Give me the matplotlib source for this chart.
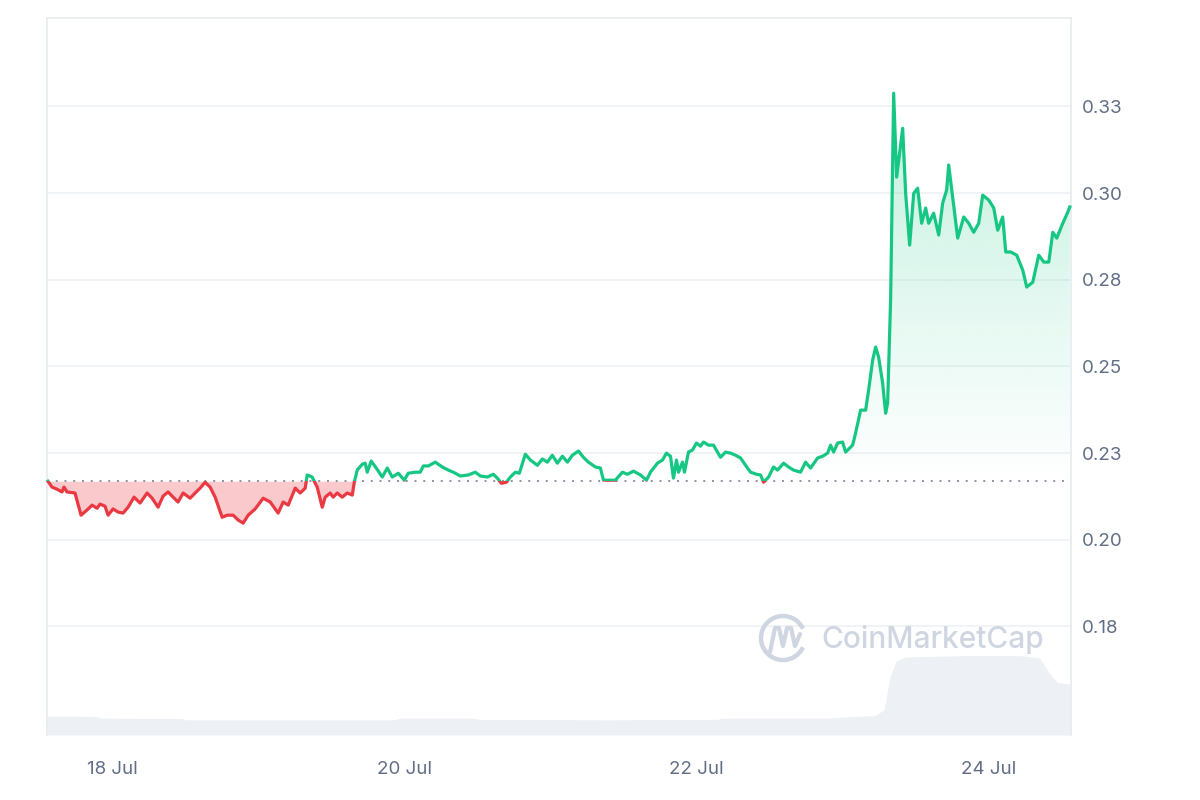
import numpy as np
import pandas as pd
import matplotlib
matplotlib.use("Agg")
import matplotlib.pyplot as plt
import matplotlib.dates as mdates
from matplotlib.patches import Arc, Rectangle

plt.rcParams['font.family'] = ['Inter', 'DejaVu Sans']

# ---- data ----
start = pd.Timestamp("2023-07-17 13:20")

hours = [0.16, 0.82, 1.64, 2.47, 2.79, 3.29, 4.60, 5.59, 6.58, 7.40, 8.22, 8.71, 9.53,
         10.03, 10.85, 11.67, 12.49, 13.32, 14.30, 15.29, 16.44, 17.26, 18.25, 19.07,
         19.89, 20.71, 21.53, 22.36, 23.51, 24.33, 25.15, 25.97, 26.79, 27.62, 28.77,
         29.59, 30.58, 31.40, 32.22, 33.04, 34.19, 35.51, 36.66, 37.97, 38.79, 39.62,
         40.77, 41.59, 42.41, 42.74, 43.56, 44.38, 45.21, 45.70, 46.52, 47.01, 47.67,
         48.49, 49.32, 50.14, 50.47, 50.96, 51.78, 52.27, 52.60, 53.26, 54.08, 55.07,
         55.89, 56.71, 57.70, 58.68, 59.34, 60.49, 61.31, 61.81, 62.63, 63.78, 64.93,
         65.92, 66.74, 67.89, 69.20, 70.35, 71.18, 72.33, 73.31, 73.97, 74.63, 75.45,
         76.11, 76.93, 77.59, 78.57, 79.40, 80.55, 81.37, 82.19, 83.01, 83.83, 84.66,
         85.48, 86.30, 87.29, 88.11, 88.93, 90.08, 90.90, 91.40, 92.55, 93.37, 94.52,
         95.34, 96.33, 97.48, 98.47, 99.12, 100.27, 101.10, 101.75, 102.41, 102.90,
         103.40, 103.73, 104.38, 104.71, 105.37, 106.03, 106.68, 107.34, 107.83, 108.66,
         109.48, 110.63, 111.45, 112.27, 113.09, 113.92, 114.74, 115.56, 116.55, 117.21,
         117.70, 118.52, 119.34, 120.00, 120.99, 121.81, 122.63, 123.78, 124.60, 125.42,
         126.58, 127.40, 128.22, 128.71, 129.21, 129.86, 130.68, 131.18, 132.33, 132.82,
         133.64, 134.47, 134.96, 135.62, 136.11, 136.60, 137.26, 137.75, 138.08, 138.58,
         139.07, 139.56, 140.55, 141.04, 141.70, 142.36, 143.01, 143.67, 144.33, 144.82,
         145.64, 146.47, 147.12, 147.78, 148.11, 148.77, 149.59, 150.58, 151.40, 152.22,
         153.04, 153.70, 154.68, 155.51, 156.16, 156.98, 157.48, 158.30, 159.28, 160.27,
         160.93, 161.92, 162.90, 163.73, 164.55, 165.21, 165.86, 166.85, 167.67, 168.00]

prices = [0.2169, 0.2152, 0.2146, 0.2138, 0.2152, 0.2138, 0.2135, 0.2071, 0.2086, 0.2100,
          0.2091, 0.2103, 0.2097, 0.2071, 0.2089, 0.2080, 0.2077, 0.2094, 0.2123, 0.2106,
          0.2135, 0.2120, 0.2094, 0.2126, 0.2138, 0.2123, 0.2109, 0.2135, 0.2120, 0.2135,
          0.2149, 0.2166, 0.2152, 0.2123, 0.2065, 0.2071, 0.2071, 0.2057, 0.2048, 0.2071,
          0.2089, 0.2120, 0.2109, 0.2077, 0.2109, 0.2100, 0.2149, 0.2135, 0.2149, 0.2187,
          0.2181, 0.2152, 0.2094, 0.2123, 0.2135, 0.2123, 0.2135, 0.2123, 0.2135, 0.2129,
          0.2166, 0.2201, 0.2218, 0.2221, 0.2195, 0.2227, 0.2207, 0.2181, 0.2207, 0.2181,
          0.2192, 0.2172, 0.2192, 0.2195, 0.2195, 0.2213, 0.2213, 0.2224, 0.2210, 0.2201,
          0.2195, 0.2184, 0.2187, 0.2195, 0.2184, 0.2181, 0.2189, 0.2178, 0.2163, 0.2166,
          0.2181, 0.2195, 0.2192, 0.2247, 0.2230, 0.2215, 0.2233, 0.2224, 0.2244, 0.2221,
          0.2241, 0.2224, 0.2244, 0.2256, 0.2238, 0.2224, 0.2210, 0.2207, 0.2172, 0.2172,
          0.2172, 0.2195, 0.2189, 0.2198, 0.2187, 0.2172, 0.2195, 0.2221, 0.2230, 0.2250,
          0.2241, 0.2178, 0.2230, 0.2195, 0.2224, 0.2195, 0.2253, 0.2259, 0.2279, 0.2270,
          0.2282, 0.2273, 0.2273, 0.2238, 0.2253, 0.2250, 0.2244, 0.2236, 0.2215, 0.2195,
          0.2189, 0.2187, 0.2166, 0.2181, 0.2210, 0.2201, 0.2221, 0.2210, 0.2201, 0.2195,
          0.2224, 0.2207, 0.2236, 0.2241, 0.2250, 0.2273, 0.2253, 0.2279, 0.2282, 0.2253,
          0.2273, 0.2308, 0.2374, 0.2374, 0.2432, 0.2518, 0.2556, 0.2527, 0.2452, 0.2365,
          0.2394, 0.2700, 0.3288, 0.3046, 0.3187, 0.2999, 0.2850, 0.2999, 0.3014, 0.2913,
          0.2957, 0.2913, 0.2942, 0.2879, 0.2971, 0.3009, 0.3081, 0.2988, 0.2870, 0.2931,
          0.2913, 0.2887, 0.2913, 0.2994, 0.2980, 0.2957, 0.2893, 0.2931, 0.2830, 0.2830,
          0.2821, 0.2778, 0.2729, 0.2743, 0.2821, 0.2801, 0.2801, 0.2887, 0.2870, 0.2913,
          0.2945, 0.2960]

baseline = 0.2169  # opening price of the period

vol_hours = [0, 8, 9, 22, 23, 57, 58, 70, 71, 92, 110, 111, 128, 130, 136, 137.5,
             138.5, 139.5, 141, 150, 160, 163, 165, 166, 168.2]
volumes = [4.5, 4.4, 4.0, 3.9, 3.6, 3.6, 4.0, 4.0, 3.7, 3.6, 3.7, 4.0, 4.0, 4.2, 4.6, 6.0,
           14.0, 17.5, 18.5, 18.8, 18.8, 18.3, 14.0, 12.5, 12.0]

y_ticks = [0.325, 0.300, 0.275, 0.250, 0.225, 0.200, 0.175]
y_tick_labels = ["0.33", "0.30", "0.28", "0.25", "0.23", "0.20", "0.18"]
x_ticks = ["2023-07-18", "2023-07-20", "2023-07-22", "2023-07-24"]

# ---- build ----
GREEN = "#16c784"
RED = "#ea3943"
TXT = "#616e85"

t = mdates.date2num(start + pd.to_timedelta(hours, unit="h"))
tv = mdates.date2num(start + pd.to_timedelta(vol_hours, unit="h"))
p = np.array(prices)
x0 = mdates.date2num(start)
x1 = mdates.date2num(start + pd.Timedelta(hours=168.2))

fig = plt.figure(figsize=(12, 8), dpi=100)
rect = [47 / 1200, 1 - 735 / 800, (1071 - 47) / 1200, (735 - 18) / 800]

# volume behind everything
ax_vol = fig.add_axes(rect)
ax_vol.fill_between(tv, 0, volumes, color="#edf0f4", lw=0)
ax_vol.set_ylim(0, 170)
ax_vol.set_xlim(x0, x1)
ax_vol.set_yticks([])
for s in ax_vol.spines.values():
    s.set_visible(False)

ax = ax_vol.twinx()
ax.patch.set_visible(False)

# red fill under the baseline
ax.fill_between(t, baseline, np.minimum(p, baseline), color=RED, alpha=0.27, lw=0, zorder=1)

# green gradient fill above the baseline
poly = ax.fill_between(t, baseline, np.maximum(p, baseline), color="none", lw=0)
alpha = np.linspace(0.26, 0.0, 256)
grad = np.zeros((256, 1, 4))
grad[..., :3] = matplotlib.colors.to_rgb(GREEN)
grad[:, 0, 3] = alpha
im = ax.imshow(grad, extent=[x0, x1, baseline, p.max()], aspect="auto",
               origin="upper", zorder=1, interpolation="bilinear")
im.set_clip_path(poly.get_paths()[0], transform=ax.transData)

ax.axhline(baseline, color="#8a93a3", ls=(0, (1, 3.5)), lw=1.4, zorder=2)

# price line: green above, red below the baseline
for col, y0, h in [(GREEN, baseline, 1.0), (RED, baseline - 1.0, 1.0)]:
    ln, = ax.plot(t, p, color=col, lw=2.3, zorder=3, solid_joinstyle="round")
    ln.set_clip_path(Rectangle((x0 - 1, y0), x1 - x0 + 2, h, transform=ax.transData))

ax.set_xlim(x0, x1)
ax.set_ylim(0.1437, 0.3505)
ax.set_yticks(y_ticks)
ax.set_yticklabels(y_tick_labels)
ax.grid(axis="y", color="#eff2f5", lw=1.2, zorder=0)
ax.set_axisbelow(True)
ax.tick_params(axis="y", length=0, pad=8, labelsize=13.5, labelcolor=TXT)

ax_vol.set_xticks(mdates.date2num(pd.to_datetime(x_ticks)))
ax_vol.xaxis.set_major_formatter(mdates.DateFormatter("%d Jul"))
ax_vol.tick_params(axis="x", length=0, pad=19, labelsize=13.5, labelcolor=TXT)

for name in ["top", "left", "right"]:
    ax.spines[name].set_color("#e8ebef")
    ax.spines[name].set_linewidth(1.2)
ax.spines["bottom"].set_visible(False)

# watermark
ov = fig.add_axes([0, 0, 1, 1], zorder=5)
ov.set_xlim(0, 1200)
ov.set_ylim(800, 0)
ov.axis("off")
wm = "#cfd6e2"
ov.add_patch(Arc((783, 638), 44, 44, theta1=25, theta2=335, color=wm, lw=3.2))
ov.plot([770, 775, 779, 783, 787, 791, 795, 800],
        [652, 628, 628, 646, 628, 628, 646, 634], color=wm, lw=3.0,
        solid_capstyle="round", solid_joinstyle="round")
ov.text(821, 640, "CoinMarketCap", fontsize=21.5, color=wm, ha="left", va="center",
        fontweight="medium")

fig.savefig("out.png", dpi=100, facecolor="white")
